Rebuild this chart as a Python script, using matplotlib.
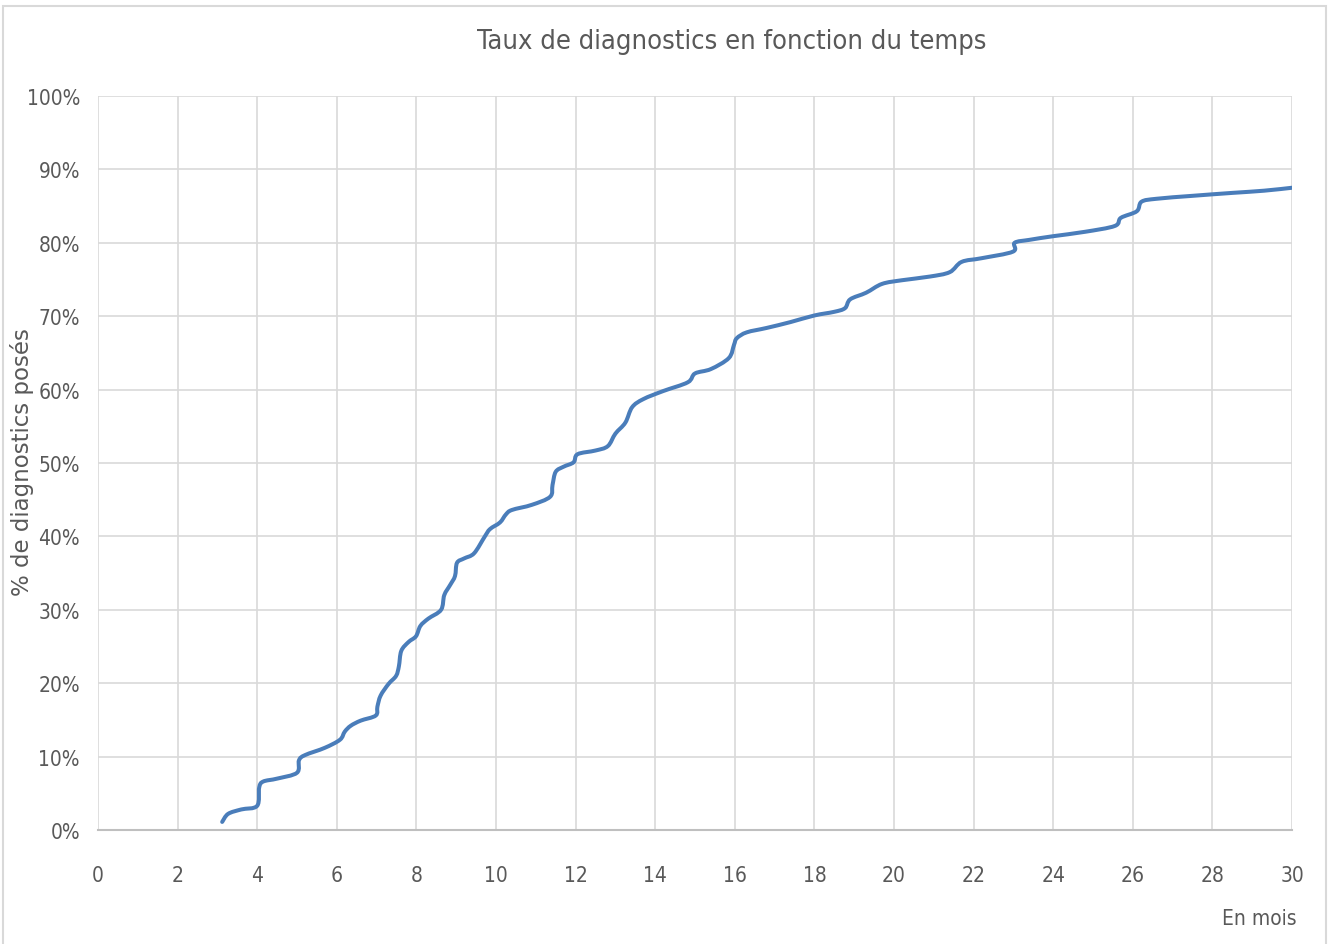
import matplotlib
matplotlib.use("Agg")
import matplotlib.pyplot as plt
from matplotlib.patches import Rectangle, PathPatch
from matplotlib.path import Path

months = [3.12, 3.27, 3.6, 4.0, 4.05, 4.15, 4.5, 5.0, 5.05, 5.2, 5.7, 6.08, 6.2, 6.35, 6.6, 6.98, 7.02,
          7.1, 7.3, 7.49, 7.56, 7.62, 7.8, 7.99, 8.1, 8.3, 8.62, 8.7, 8.85, 8.97, 9.02, 9.2, 9.45,
          9.72, 9.85, 10.1, 10.25, 10.4, 10.9, 11.36, 11.42, 11.5, 11.7, 11.95, 12.05, 12.5, 12.81,
          13.0, 13.25, 13.42, 13.7, 14.2, 14.82, 15.0, 15.4, 15.85, 15.98, 16.05, 16.3, 16.8, 17.4,
          18.0, 18.5, 18.77, 18.9, 19.3, 19.7, 20.2, 20.9, 21.4, 21.7, 22.2, 22.99, 23.03, 23.4,
          24.0, 24.8, 25.55, 25.7, 26.1, 26.22, 26.6, 27.5, 28.5, 29.3, 30.0]
pct = [1.1, 2.2, 2.8, 3.3, 5.8, 6.6, 7.0, 7.8, 9.5, 10.2, 11.2, 12.3, 13.4, 14.2, 14.9, 15.6, 16.8,
       18.3, 19.9, 21.0, 22.3, 24.4, 25.6, 26.4, 27.8, 28.8, 30.0, 32.0, 33.4, 34.6, 36.4, 37.0, 37.7,
       40.0, 41.0, 41.9, 43.0, 43.6, 44.3, 45.4, 47.0, 48.8, 49.5, 50.1, 51.2, 51.7, 52.3,
       54.0, 55.5, 57.6, 58.7, 59.8, 61.0, 62.2, 62.8, 64.3, 66.1, 67.0, 67.8, 68.4, 69.2,
       70.1, 70.6, 71.1, 72.3, 73.2, 74.4, 74.9, 75.4, 76.0, 77.4, 77.9, 78.8, 80.0, 80.4,
       80.9, 81.5, 82.3, 83.4, 84.3, 85.6, 86.0, 86.4, 86.8, 87.1, 87.5]

x_ticks = list(range(0, 31, 2))
y_ticks = list(range(0, 101, 10))
y_tick_labels = [f"{v}%" for v in y_ticks]

title = "Taux de diagnostics en fonction du temps"
ylabel = "% de diagnostics posés"
xlabel = "En mois"

cond = dict(family="DejaVu Sans", stretch="condensed")

W, H = 1330, 945
fig = plt.figure(figsize=(W / 100, H / 100), dpi=100)
fig.patch.set_facecolor("white")
fig.patches.append(Rectangle((3 / W, -0.01), (1326 - 3) / W, 1 - 7 / H + 0.01,
                             transform=fig.transFigure, fill=False,
                             edgecolor="#D9D9D9", linewidth=1.5))

ax = fig.add_axes([98 / W, 1 - 831 / H, (1292 - 98) / W, (831 - 97) / H])

# smoothed line (Catmull-Rom style Bezier, like a spreadsheet "smoothed line")
pts = list(zip(months, pct))
verts = [pts[0]]
codes = [Path.MOVETO]
n = len(pts)
for i in range(n - 1):
    p0 = pts[i - 1] if i > 0 else pts[i]
    p1 = pts[i]
    p2 = pts[i + 1]
    p3 = pts[i + 2] if i + 2 < n else pts[i + 1]
    c1 = (p1[0] + (p2[0] - p0[0]) / 6, p1[1] + (p2[1] - p0[1]) / 6)
    c2 = (p2[0] - (p3[0] - p1[0]) / 6, p2[1] - (p3[1] - p1[1]) / 6)
    verts += [c1, c2, p2]
    codes += [Path.CURVE4] * 3
ax.add_patch(PathPatch(Path(verts, codes), facecolor="none", edgecolor="#4A7DBA",
                       linewidth=2.9, joinstyle="round", capstyle="round", zorder=3))

ax.set_xlim(0, 30)
ax.set_ylim(0, 100)
ax.set_xticks(x_ticks)
ax.set_yticks(y_ticks)
ax.set_xticklabels([str(v) for v in x_ticks], fontsize=15, color="#595959", **cond)
ax.set_yticklabels(y_tick_labels, fontsize=15, color="#595959", **cond)
ax.tick_params(axis="both", length=0)
ax.tick_params(axis="x", pad=25)
ax.tick_params(axis="y", pad=13)
ax.grid(True, color="#D9D9D9", linewidth=1.2)
ax.set_axisbelow(True)
for s in ["top", "right", "left"]:
    ax.spines[s].set_visible(False)
ax.spines["bottom"].set_color("#BFBFBF")
ax.spines["bottom"].set_linewidth(1.5)

fig.text(732 / W, 1 - 42 / H, title, fontsize=19.5, color="#595959",
         ha="center", va="center", **cond)
fig.text(22 / W, 1 - 462 / H, ylabel, family="DejaVu Sans", fontsize=16.5, color="#595959",
         rotation=90, ha="center", va="center")
fig.text(1297 / W, 1 - 919 / H, xlabel, fontsize=15, color="#595959",
         ha="right", va="center", **cond)

fig.savefig("out.png", dpi=100)
